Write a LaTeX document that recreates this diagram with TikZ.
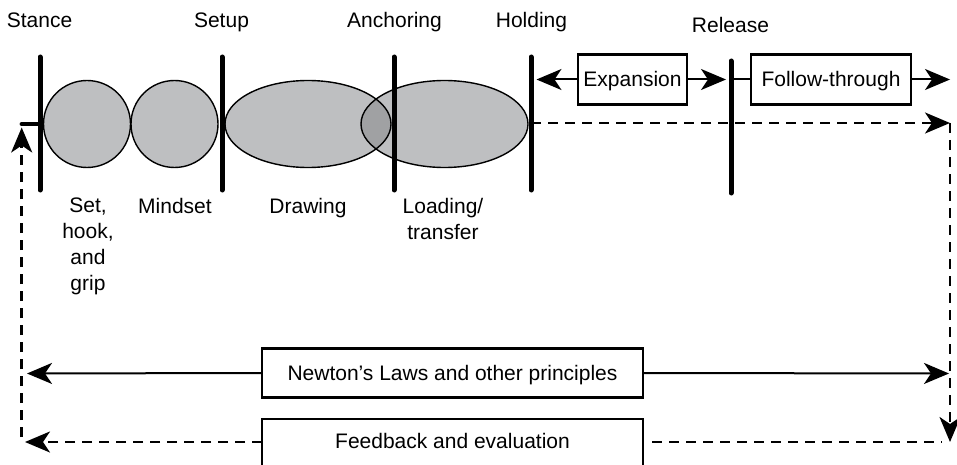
\documentclass[tikz,border=0pt]{standalone}
\usepackage{fontspec}
\setmainfont{Liberation Sans}
\usetikzlibrary{arrows.meta,calc}
\definecolor{blobgray}{HTML}{BEBFC1}
\definecolor{overlapgray}{HTML}{A0A1A3}
\begin{document}
\begin{tikzpicture}[x=1pt,y=-1pt,
  lbl/.style={font=\fontsize{21}{26}\selectfont, inner sep=0pt, align=center},
  bar/.style={line width=5pt, line cap=round},
  blob/.style={draw=black, line width=1.4pt},
  box/.style={draw=black, line width=2.2pt, font=\fontsize{21}{26}\selectfont, inner sep=0pt, text height=15pt, text depth=0pt},
  tipped/.style={-{Stealth[length=25pt,width=21pt,inset=7pt]}},
  arr/.style={line width=2pt, tipped},
  dsh/.style={line width=2.6pt, dash pattern=on 10pt off 7pt},
]
\path[use as bounding box, clip] (0,0) rectangle (957,465);

% key coordinates
\coordinate (bar1) at (40,124);
\coordinate (bar2) at (222,124);
\coordinate (bar3) at (394,124);
\coordinate (bar4) at (531,124);
\coordinate (bar5) at (731,124);
\coordinate (stubL) at (21.7,124);
\coordinate (dashR) at (950,123);
\coordinate (dashRB) at (950,442);
\coordinate (lvb) at (21.7,437);
\coordinate (lvt) at (21.7,127.5);
\coordinate (fbl) at (262,442);
\coordinate (fbleft) at (25,442);
\coordinate (fbr) at (652,442);
\coordinate (fbright) at (942,442);
\coordinate (nl) at (27,373.5);
\coordinate (nr) at (949,373.5);
\coordinate (fr) at (950,79.5);

% blobs
\fill[blobgray] (87,124) circle [radius=43.5];
\fill[blobgray] (174.5,124) circle [radius=43.5];
\fill[blobgray] (308,124) ellipse [x radius=83, y radius=43.5];
\fill[blobgray] (444.5,124) ellipse [x radius=83.5, y radius=43.5];
\begin{scope}
  \clip (308,124) ellipse [x radius=83, y radius=43.5];
  \fill[overlapgray] (444.5,124) ellipse [x radius=83.5, y radius=43.5];
\end{scope}
\draw[blob] (87,124) circle [radius=43.5];
\draw[blob] (174.5,124) circle [radius=43.5];
\draw[blob] (308,124) ellipse [x radius=83, y radius=43.5];
\draw[blob] (444.5,124) ellipse [x radius=83.5, y radius=43.5];

% bars
\draw[bar] (40,57) -- (40,190);
\draw[bar] (222,57) -- (222,190);
\draw[bar] (394,57) -- (394,190);
\draw[bar] (531,57) -- (531,190);
\draw[bar] (731,61) -- (731,193);

% top labels
\node[lbl, anchor=base] (stance) at (39.5,28) {Stance};
\node[lbl, anchor=base] (setup) at (221.5,28) {Setup};
\node[lbl, anchor=base] (anchoring) at (394.5,28) {Anchoring};
\node[lbl, anchor=base] (holding) at (531.5,28) {Holding};
\node[lbl, anchor=base] (release) at (730.5,33) {Release};

% bottom labels
\node[lbl, anchor=north] (set) at (88,198) {Set,\\hook,\\and\\grip};
\node[lbl, anchor=north] (mindset) at (175,198) {Mindset};
\node[lbl, anchor=north] (drawing) at (308,198) {Drawing};
\node[lbl, anchor=north] (loading) at (443,198) {Loading/\\transfer};

% boxes
\node[box, minimum width=109pt, minimum height=50pt] (exp) at (632.5,79.5) {Expansion};
\node[box, minimum width=160pt, minimum height=50pt] (fol) at (831,79.5) {Follow-through};
\node[box, minimum width=381pt, minimum height=49pt] (newton) at (452.5,373) {Newton’s Laws and other principles};
\node[box, minimum width=381pt, minimum height=70pt, anchor=north] (fb) at (452.5,418) {};
\node[lbl, anchor=base] (fbt) at (452.5,448) {Feedback and evaluation};

% connectors
\draw[arr, shorten >=5.5pt] (exp.west) -- (exp.west -| bar4);
\draw[arr, shorten >=5pt] (exp.east) -- (exp.east -| bar5);
\draw[line width=2pt] (bar5 |- fol.west) -- (fol.west);
\draw[arr] (fol.east) -- (fr);
\draw[dsh, tipped] (bar4 |- dashR) -- (dashR);
\draw[dsh, tipped] (dashR) -- (dashRB);
\draw[dsh] (fbr) -- (fbright);
\draw[dsh, tipped] (fbl) -- (fbleft);
\draw[dsh, tipped] (lvb) -- (lvt);
\draw[line width=4.3pt, line cap=round] (stubL) -- (bar1);
\draw[arr] (newton.west) -- (nl);
\draw[arr] (newton.east) -- (nr);
\end{tikzpicture}
\end{document}
